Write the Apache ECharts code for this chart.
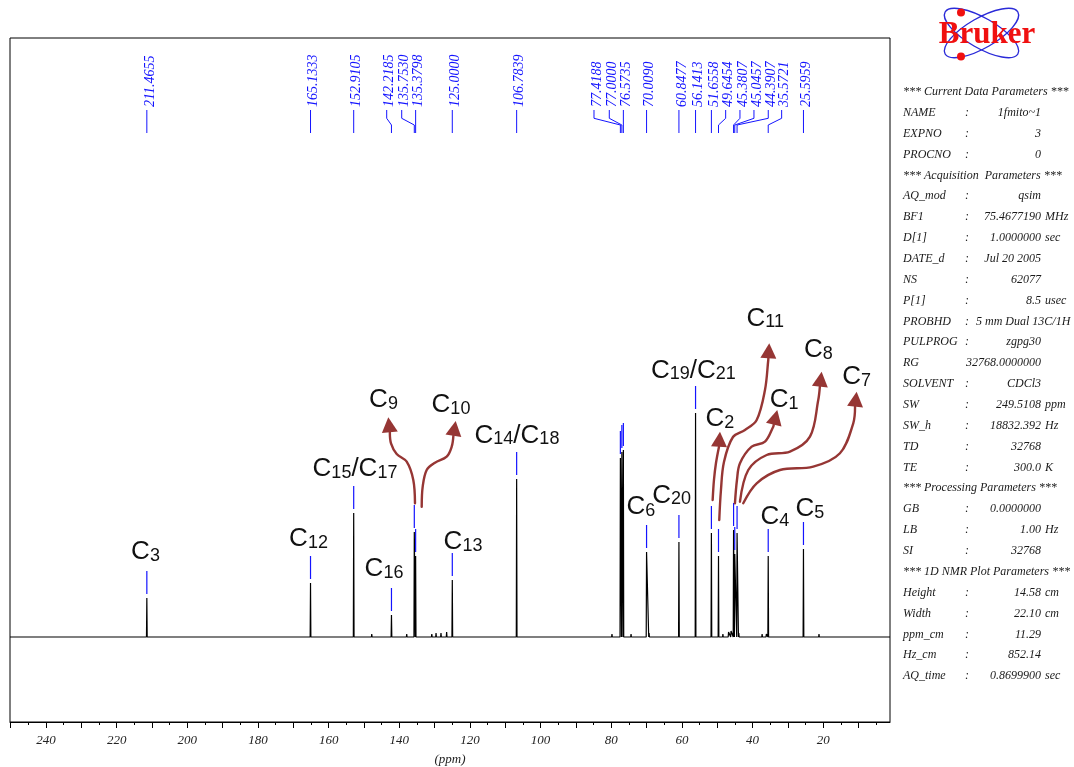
<!DOCTYPE html>
<html>
<head>
<meta charset="utf-8">
<script src="https://cdn.jsdelivr.net/npm/echarts@6/dist/echarts.min.js"></script>
<style>
  html, body { margin: 0; padding: 0; background: #fff; }
  #chart { width: 1074px; height: 767px; }
</style>
</head>
<body>
<div id="chart"></div>
<script>
// ---- 13C peak list (chemical shift in ppm, plotted intensity) ----
const peakShifts  = [211.4655, 165.1333, 152.9105, 142.2185, 135.7530, 135.3798, 125.0000, 106.7839,
                     77.4188, 77.0000, 76.5735, 70.0090, 60.8477, 56.1413, 51.6558, 49.6454,
                     45.3807, 45.0457, 44.3907, 35.5721, 25.5959];
const peakHeights = [39, 54, 124, 22, 105, 81, 57, 158,
                     179, 185, 187, 85, 95, 224, 104, 81,
                     107, 83, 104, 81, 88];
// where each printed shift is placed along the axis (ppm); crowded ones are fanned out
const tagSlots    = [211.4655, 165.1333, 152.9105, 143.57, 139.32, 135.3798, 125.0000, 106.7839,
                     84.89, 80.56, 76.5735, 70.0090, 60.8477, 56.1413, 51.6558, 47.62,
                     43.57, 39.61, 35.56, 31.77, 25.5959];

// small features along the baseline
const minorShifts  = [147.8, 137.9, 130.8, 129.6, 128.2, 126.6, 79.8, 74.4, 73.2, 71.9, 69.3,
                      48.4, 46.8, 46.1, 43.9, 40.7, 37.3, 36.1, 33.6, 30.2, 28.7, 21.2, 20.3];
const minorHeights = [3, 3, 3, 4, 4, 5, 3, 3, 2, 2, 4,
                      3, 5, 6, 4, 2, 3, 3, 2, 2, 2, 3, 2];

// ---- axis ----
const axisMin = 1.1, axisMax = 250.2;
const majorTicks = [10, 20, 30, 40, 50, 60, 70, 80, 90, 100, 110, 120, 130, 140, 150, 160, 170, 180, 190, 200, 210, 220, 230, 240, 250];
const minorTicks = [5, 15, 25, 35, 45, 55, 65, 75, 85, 95, 105, 115, 125, 135, 145, 155, 165, 175, 185, 195, 205, 215, 225, 235, 245];
const tickLabels = [20, 40, 60, 80, 100, 120, 140, 160, 180, 200, 220, 240];

// ---- carbon assignments: [main, subscript] pieces, anchor (ppm, level of text baseline) ----
const assignText = [
  [['C', '3']], [['C', '12']], [['C', '15'], ['/C', '17']], [['C', '16']],
  [['C', '9']], [['C', '10']], [['C', '13']], [['C', '14'], ['/C', '18']],
  [['C', '19'], ['/C', '21']], [['C', '6']], [['C', '20']], [['C', '2']],
  [['C', '11']], [['C', '1']], [['C', '8']], [['C', '7']], [['C', '4']], [['C', '5']]
];
const assignPpm   = [211.84, 165.7, 152.54, 144.33, 144.47, 125.37, 121.97, 106.69,
                     56.73, 71.59, 62.91, 49.23, 36.4, 31.06, 21.4, 10.55, 33.66, 23.75];
const assignLevel = [77, 90, 160, 60, 229, 224, 87, 193.5,
                     258.5, 122, 133.5, 210, 310.5, 228.7, 278.7, 252, 112, 120.3];

// ---- curved arrows from crowded peaks to their assignment (ppm, level); last point is the tip ----
const arrowC9  = [[135.56, 133.7], [136.04, 157], [137.91, 175.3], [140.74, 183], [142.35, 193.7], [143.12, 219.7]];
const arrowC10 = [[133.66, 130.3], [133.38, 150.3], [132.25, 167], [129.90, 174.3], [126.59, 180.3], [125.17, 190.3], [124.04, 216]];
const arrowC2  = [[51.30, 137], [50.93, 157], [50.36, 174], [49.51, 190], [49.23, 205.3]];
const arrowC11 = [[49.43, 117], [48.95, 147], [48.10, 175], [45.55, 200], [42.16, 207], [38.84, 217], [36.49, 247], [35.56, 277], [35.28, 293.7]];
const arrowC1  = [[44.99, 133.7], [44.42, 157], [43.57, 173.7], [40.26, 190.3], [36.49, 195.3], [34.15, 210.3], [33.01, 227]];
const arrowC8  = [[43.57, 135.3], [41.22, 167], [36.01, 182], [29.42, 185.3], [23.76, 200.3], [21.41, 237], [20.45, 265.3]];
const arrowC7  = [[42.64, 133.7], [38.84, 153.7], [32.25, 167], [22.82, 170.3], [15.27, 183.7], [11.50, 213.7], [10.54, 245.3]];
const arrows = [arrowC9, arrowC10, arrowC2, arrowC11, arrowC1, arrowC8, arrowC7];

// ---- acquisition / processing parameter table ----
const paramRows = [
  ['*** Current Data Parameters ***'],
  ['NAME', ':', '1fmito~1', ''],
  ['EXPNO', ':', '3', ''],
  ['PROCNO', ':', '0', ''],
  ['*** Acquisition  Parameters ***'],
  ['AQ_mod', ':', 'qsim', ''],
  ['BF1', ':', '75.4677190', 'MHz'],
  ['D[1]', ':', '1.0000000', 'sec'],
  ['DATE_d', ':', 'Jul 20 2005', ''],
  ['NS', ':', '62077', ''],
  ['P[1]', ':', '8.5', 'usec'],
  ['PROBHD', ':', '5 mm Dual 13C/1H', ''],
  ['PULPROG', ':', 'zgpg30', ''],
  ['RG', '', '32768.0000000', ''],
  ['SOLVENT', ':', 'CDCl3', ''],
  ['SW', ':', '249.5108', 'ppm'],
  ['SW_h', ':', '18832.392', 'Hz'],
  ['TD', ':', '32768', ''],
  ['TE', ':', '300.0', 'K'],
  ['*** Processing Parameters ***'],
  ['GB', ':', '0.0000000', ''],
  ['LB', ':', '1.00', 'Hz'],
  ['SI', ':', '32768', ''],
  ['*** 1D NMR Plot Parameters ***'],
  ['Height', ':', '14.58', 'cm'],
  ['Width', ':', '22.10', 'cm'],
  ['ppm_cm', ':', '11.29', ''],
  ['Hz_cm', ':', '852.14', ''],
  ['AQ_time', ':', '0.8699900', 'sec']
];

// ---------------------------------------------------------------------------
const SERIF = '"Liberation Serif", "Times New Roman", serif';
const SANS = '"Liberation Sans", Arial, sans-serif';
const BLUE = '#1414ff';
const ARROW = '#963634';

// spectrum trace: baseline with narrow lines at every resonance
function buildTrace() {
  const lines = [];
  peakShifts.forEach((p, i) => lines.push([p, peakHeights[i]]));
  minorShifts.forEach((p, i) => lines.push([p, minorHeights[i]]));
  lines.sort((a, b) => a[0] - b[0]);
  const pts = [[axisMin, 0]];
  const hw = 0.1;
  lines.forEach(([p, h]) => {
    pts.push([p - hw, 0], [p, h], [p + hw, 0]);
  });
  pts.push([axisMax, 0]);
  return pts;
}

function richString(parts) {
  return parts.map(([m, s]) => '{c|' + m + '}{s|' + s + '}').join('');
}

const chart = echarts.init(document.getElementById('chart'), null, { renderer: 'canvas' });

const graphic = [];
// Bruker logo
graphic.push({
  type: 'ellipse', x: 981.5, y: 33, rotation: Math.PI / 6,
  shape: { cx: 0, cy: 0, rx: 42, ry: 15 },
  style: { fill: 'none', stroke: '#2a2ad8', lineWidth: 1.4 }, z: 10
});
graphic.push({
  type: 'ellipse', x: 981.5, y: 33, rotation: -Math.PI / 6,
  shape: { cx: 0, cy: 0, rx: 42, ry: 15 },
  style: { fill: 'none', stroke: '#2a2ad8', lineWidth: 1.4 }, z: 10
});
graphic.push({
  type: 'text', x: 987, y: 35, z: 11,
  style: { text: 'Bruker', fill: '#f01010', font: 'bold 31px ' + SERIF, align: 'center', verticalAlign: 'middle' }
});
graphic.push({ type: 'circle', shape: { cx: 961, cy: 12.5, r: 4 }, style: { fill: '#f01010' }, z: 12 });
graphic.push({ type: 'circle', shape: { cx: 961, cy: 56.5, r: 4 }, style: { fill: '#f01010' }, z: 12 });

// parameter table
const rowTop = 92, rowStep = 20.86;
const font12 = 'italic 12px ' + SERIF;
paramRows.forEach((row, i) => {
  const y = rowTop + i * rowStep;
  const st = (t, x, align) => ({
    type: 'text', x: x, y: y,
    style: { text: t, fill: '#1a1a1a', font: font12, align: align, verticalAlign: 'middle' }
  });
  if (row.length === 1) {
    graphic.push(st(row[0], 903, 'left'));
    return;
  }
  const [key, colon, val, unit] = row;
  graphic.push(st(key, 903, 'left'));
  if (colon) graphic.push(st(colon, 965, 'left'));
  if (val.length > 14) {
    graphic.push(st(val, 976, 'left'));
  } else {
    graphic.push(st(val, 1041, 'right'));
  }
  if (unit) graphic.push(st(unit, 1045, 'left'));
});

const option = {
  animation: false,
  backgroundColor: '#fff',
  grid: {
    left: 10, right: 184, top: 38, bottom: 45,
    containLabel: false, outerBoundsMode: 'none',
    show: true, borderColor: '#000', borderWidth: 1, backgroundColor: 'transparent'
  },
  xAxis: [
    {
      type: 'value', inverse: true, min: axisMin, max: axisMax, position: 'bottom',
      axisLine: { show: true, onZero: false, lineStyle: { color: '#000', width: 1 } },
      axisTick: { show: true, customValues: majorTicks, length: 6, lineStyle: { color: '#000', width: 1 } },
      axisLabel: {
        customValues: tickLabels, margin: 12, color: '#222',
        fontFamily: SERIF, fontStyle: 'italic', fontSize: 13
      },
      splitLine: { show: false },
      name: '(ppm)', nameLocation: 'middle', nameGap: 31,
      nameTextStyle: { fontFamily: SERIF, fontStyle: 'italic', fontSize: 13, color: '#222' }
    },
    {
      type: 'value', inverse: true, min: axisMin, max: axisMax, position: 'bottom',
      axisLine: { show: false, onZero: false },
      axisTick: { show: true, customValues: minorTicks, length: 3, lineStyle: { color: '#000', width: 1 } },
      axisLabel: { show: false },
      splitLine: { show: false }
    }
  ],
  yAxis: { type: 'value', min: -85, max: 599, show: false },
  graphic: graphic,
  series: [
    {
      name: 'spectrum', type: 'line', data: buildTrace(), symbol: 'none',
      lineStyle: { color: '#000', width: 1.2 }, z: 2, silent: true
    },
    {
      // peak-pick markers just above each resonance
      name: 'peak marks', type: 'custom', z: 3, silent: true,
      data: peakShifts.map((p, i) => [p, peakHeights[i]]),
      renderItem: (params, api) => {
        const pt = api.coord([api.value(0), api.value(1)]);
        return {
          type: 'line',
          shape: { x1: pt[0], y1: pt[1] - 4, x2: pt[0], y2: pt[1] - 27 },
          style: { stroke: BLUE, lineWidth: 1.2 }
        };
      }
    },
    {
      // printed shift values along the top with their leader lines
      name: 'shift tags', type: 'custom', z: 4, silent: true,
      data: peakShifts.map((p, i) => [p, peakHeights[i]]),
      renderItem: (params, api) => {
        const i = params.dataIndex;
        const top = params.coordSys.y;
        const px = api.coord([api.value(0), 0])[0];
        const sx = api.coord([tagSlots[i], 0])[0];
        let pts;
        if (Math.abs(sx - px) < 0.8) {
          pts = [[px, top + 72], [px, top + 95]];
        } else {
          pts = [[sx, top + 72], [sx, top + 80.3], [px, top + 87], [px, top + 95]];
        }
        return {
          type: 'group',
          children: [
            {
              type: 'polyline', shape: { points: pts },
              style: { stroke: BLUE, lineWidth: 1, fill: 'none' }
            },
            {
              type: 'text', x: sx + 3, y: top + 69, rotation: Math.PI / 2,
              style: {
                text: api.value(0).toFixed(4), fill: BLUE,
                font: 'italic 14px ' + SERIF, align: 'left', verticalAlign: 'middle'
              }
            }
          ]
        };
      }
    },
    {
      // carbon assignment labels
      name: 'assignments', type: 'custom', z: 5, silent: true,
      data: assignPpm.map((p, i) => [p, assignLevel[i]]),
      renderItem: (params, api) => {
        const i = params.dataIndex;
        const pt = api.coord([api.value(0), api.value(1)]);
        return {
          type: 'text', x: pt[0], y: pt[1] + 5,
          style: {
            text: richString(assignText[i]), align: 'center', verticalAlign: 'bottom', fill: '#111',
            rich: {
              c: { fontFamily: SANS, fontSize: 26, lineHeight: 26, verticalAlign: 'bottom', fill: '#111' },
              s: { fontFamily: SANS, fontSize: 18, lineHeight: 15, verticalAlign: 'bottom', fill: '#111' }
            }
          }
        };
      }
    },
    {
      // curved arrows
      name: 'arrows', type: 'custom', z: 6, silent: true,
      data: arrows.map(a => a[a.length - 1]),
      renderItem: (params, api) => {
        const path = arrows[params.dataIndex].map(v => api.coord(v));
        const tip = path[path.length - 1];
        const prev = path[path.length - 2];
        let dx = tip[0] - prev[0], dy = tip[1] - prev[1];
        const len = Math.hypot(dx, dy) || 1;
        dx /= len; dy /= len;
        const headLen = 15, headHalf = 8;
        const base = [tip[0] - dx * headLen, tip[1] - dy * headLen];
        const nx = -dy, ny = dx;
        const shaft = path.slice(0, -1).filter(p => (p[1] - base[1]) > 1.5);
        shaft.push(base);
        return {
          type: 'group',
          children: [
            {
              type: 'polyline', shape: { points: shaft, smooth: 0.35 },
              style: { stroke: ARROW, lineWidth: 2.4, fill: 'none', lineCap: 'round' }
            },
            {
              type: 'polygon',
              shape: { points: [tip, [base[0] + nx * headHalf, base[1] + ny * headHalf], [base[0] - nx * headHalf, base[1] - ny * headHalf]] },
              style: { fill: ARROW }
            }
          ]
        };
      }
    }
  ]
};

chart.setOption(option);
</script>
</body>
</html>
